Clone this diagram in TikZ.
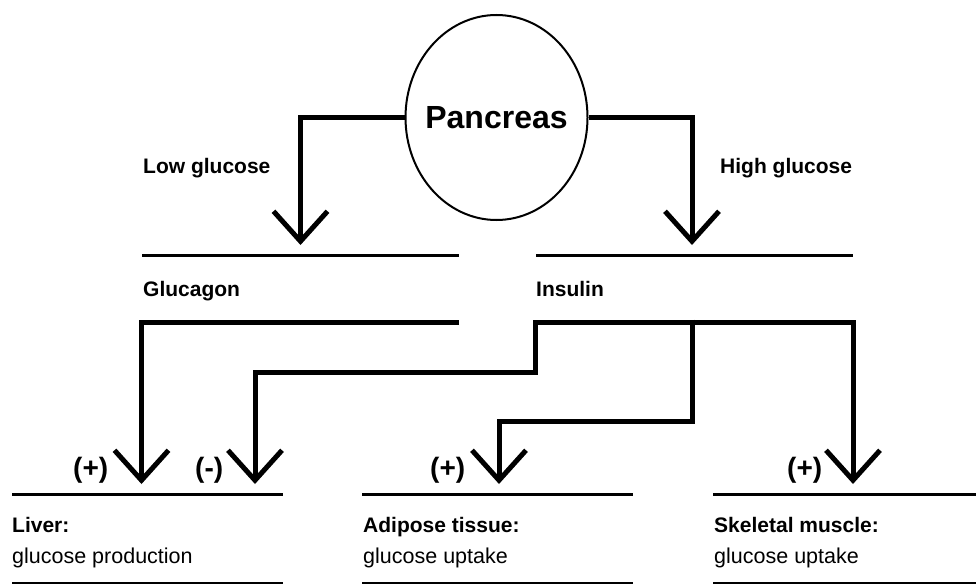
\documentclass[tikz,border=0pt]{standalone}
\usepackage{fontspec}
\setmainfont{Liberation Sans}
\usetikzlibrary{arrows.meta,shapes.geometric}
\begin{document}
\begin{tikzpicture}[x=1pt,y=-1pt,
  barb/.tip={Straight Barb[length=30pt,width=54pt]},
  conn/.style={line width=5pt, -barb},
  connboth/.style={line width=5pt, barb-barb},
  sep/.style={line width=3pt},
  endsep/.style={line width=2pt},
  toplabel/.style={anchor=base west, inner sep=0pt, font=\bfseries\fontsize{21}{25}\selectfont},
  organ/.style={anchor=base west, inner sep=0pt, font=\bfseries\fontsize{21}{25}\selectfont},
  effect/.style={anchor=base west, inner sep=0pt, font=\fontsize{21.5}{25}\selectfont},
  sign/.style={anchor=base west, inner sep=0pt, font=\bfseries\fontsize{28}{32}\selectfont},
]
\useasboundingbox (0,0) rectangle (976,586);

% pancreas
\node[draw, ellipse, line width=2pt, minimum width=182pt, minimum height=205pt, inner sep=0pt] (pancreas) at (496.5,117.5) {};
\node[font=\bfseries\fontsize{32}{38}\selectfont, inner sep=0pt] (pancreasLabel) at (pancreas.center) {Pancreas};

% top labels
\node[toplabel] (low) at (143,173) {Low glucose};
\node[toplabel] (high) at (720,173) {High glucose};
\node[toplabel] (glucagon) at (143,296) {Glucagon};
\node[toplabel] (insulin) at (536,296) {Insulin};

% separators
\coordinate (lowL) at (142,255); \coordinate (lowR) at (459,255);
\coordinate (highL) at (536,255); \coordinate (highR) at (853,255);
\draw[sep] (lowL) -- (lowR);
\draw[sep] (highL) -- (highR);

\coordinate (livL) at (12,494); \coordinate (livR) at (283,494);
\coordinate (adL) at (362,494); \coordinate (adR) at (633,494);
\coordinate (skL) at (713,494); \coordinate (skR) at (976,494);
\draw[sep] (livL) -- (livR);
\draw[sep] (adL) -- (adR);
\draw[sep] (skL) -- (skR);

\coordinate (livL2) at (12,583); \coordinate (livR2) at (283,583);
\coordinate (adL2) at (362,583); \coordinate (adR2) at (633,583);
\coordinate (skL2) at (713,583); \coordinate (skR2) at (976,583);
\draw[endsep] (livL2) -- (livR2);
\draw[endsep] (adL2) -- (adR2);
\draw[endsep] (skL2) -- (skR2);

% bottom labels
\node[organ] (liver) at (12,532) {Liver:};
\node[effect] (liverE) at (12,563) {glucose production};
\node[organ] (adipose) at (363,532) {Adipose tissue:};
\node[effect] (adiposeE) at (363,563) {glucose uptake};
\node[organ] (muscle) at (714,532) {Skeletal muscle:};
\node[effect] (muscleE) at (714,563) {glucose uptake};

% signs
\node[sign] (s1) at (73,477) {(+)};
\node[sign] (s2) at (195,477) {(-)};
\node[sign] (s3) at (430,477) {(+)};
\node[sign] (s4) at (787,477) {(+)};

% pancreas outputs
\coordinate (gTip) at (300.5,245);
\coordinate (iTip) at (692,245);
\draw[conn] (pancreas.west) -| (gTip);
\draw[conn] (pancreas.east) -| (iTip);

% glucagon -> liver
\coordinate (gStart) at (459,322);
\coordinate (livA) at (141.5,484);
\draw[conn] (gStart) -| (livA);

% insulin
\coordinate (livB) at (255,484);
\coordinate (adTip) at (499,484);
\coordinate (skTip) at (853,484);
\coordinate (insStep) at (535.5,372);
\coordinate (insCorner) at (535.5,322);
\draw[connboth] (livB) |- (insStep) -- (insCorner) -| (skTip);
\coordinate (brTop) at (692,319.5);
\coordinate (brMid) at (692,421.5);
\draw[conn] (brTop) -- (brMid) -| (adTip);
\end{tikzpicture}
\end{document}
